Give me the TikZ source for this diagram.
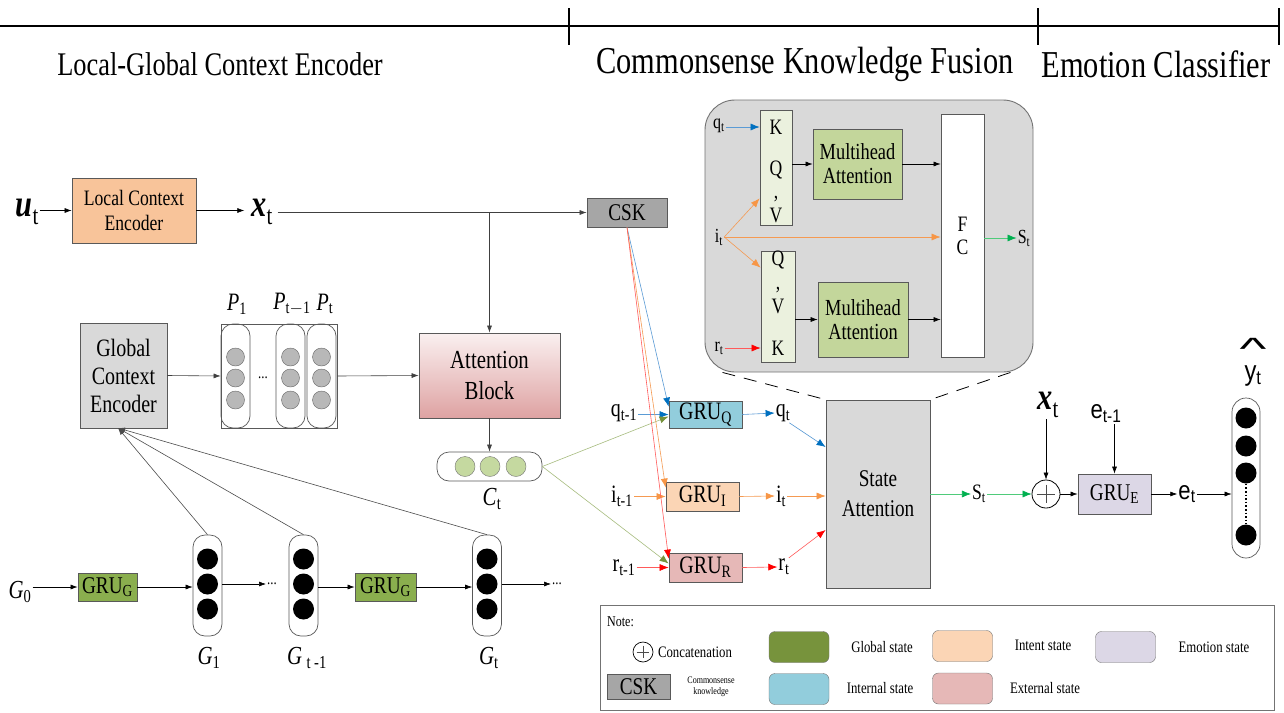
\documentclass[tikz,border=0pt]{standalone}
\usepackage{fontspec}
\setmainfont{Liberation Serif}[FakeStretch=0.8]
\newfontfamily\arial{Liberation Sans}[FakeStretch=0.85]
\usetikzlibrary{arrows.meta}
\newcommand\fs[2]{\fontsize{#1}{#2}\selectfont}
\definecolor{peach}{HTML}{F8C49A}
\definecolor{gbox}{HTML}{D9D9D9}
\definecolor{cskgray}{HTML}{A6A6A6}
\definecolor{grugreen}{HTML}{8AAE4E}
\definecolor{legolive}{HTML}{77933C}
\definecolor{qblue}{HTML}{92CDDC}
\definecolor{ipeach}{HTML}{FBD5B5}
\definecolor{rpink}{HTML}{E6B8B7}
\definecolor{elav}{HTML}{DCD7E6}
\definecolor{kgreen}{HTML}{EBF1DE}
\definecolor{mgreen}{HTML}{C3D69B}
\definecolor{cgreen}{HTML}{C5D9A0}
\definecolor{ablue}{HTML}{0070C0}
\definecolor{lblue}{HTML}{5B9BD5}
\definecolor{aorange}{HTML}{F79646}
\definecolor{lorange}{HTML}{F59A52}
\definecolor{ared}{HTML}{FF0000}
\definecolor{lred}{HTML}{FF5A5A}
\definecolor{agreen}{HTML}{00B050}
\definecolor{lgreen}{HTML}{4FCB7A}
\definecolor{aolive}{HTML}{76923C}
\definecolor{lolive}{HTML}{A7BC7E}
\definecolor{attop}{HTML}{FAF0F0}
\definecolor{atbot}{HTML}{DEA2A2}
\tikzset{
  bx/.style={draw=black!65, line width=0.8pt, inner sep=0pt, align=center},
  lab/.style={inner sep=1pt, align=center},
  ar/.style={-{Latex[length=7pt,width=5pt]}, line width=0.6pt},
  arb/.style={draw=lblue, -{Latex[length=9pt,width=7pt,color=ablue]}, line width=0.6pt},
  aro/.style={draw=lorange, -{Latex[length=9pt,width=7pt,color=aorange]}, line width=0.6pt},
  arr/.style={draw=lred, -{Latex[length=9pt,width=7pt,color=ared]}, line width=0.6pt},
  arg/.style={draw=lgreen, -{Latex[length=9pt,width=7pt,color=agreen]}, line width=0.6pt},
  arol/.style={draw=lolive, -{Latex[length=9pt,width=7pt,color=aolive]}, line width=0.6pt},
  col/.style={draw=black!65, line width=0.7pt, rounded corners=12pt, inner sep=0pt},
  dotg/.style={circle, draw=black!60, fill=black!28, minimum size=18pt, inner sep=0pt},
  dotb/.style={circle, fill=black, minimum size=21pt, inner sep=0pt},
  leg/.style={draw=black!55, rounded corners=6pt, minimum width=60pt, minimum height=31pt, inner sep=0pt},
}
\begin{document}
\begin{tikzpicture}[x=1pt,y=-1pt]
\useasboundingbox[fill=white] (0,0) rectangle (1284,712);
% ruler
\coordinate (r0) at (0,26);
\coordinate (r1) at (1279,26);
\draw[line width=2.5pt] (r0) -- (r1);
\coordinate (t1a) at (569,8); \coordinate (t1b) at (569,45);
\coordinate (t2a) at (1038,8); \coordinate (t2b) at (1038,45);
\coordinate (t3a) at (1279,8); \coordinate (t3b) at (1279,45);
\draw[line width=2.5pt] (t1a) -- (t1b);
\draw[line width=2.5pt] (t2a) -- (t2b);
\draw[line width=2.5pt] (t3a) -- (t3b);
\node[lab, font=\fs{33}{33}] (h1) at (220,64) {Local-Global Context Encoder};
\node[lab, font=\fs{38}{38}] (h2) at (805,64) {Commonsense Knowledge Fusion};
\node[lab, font=\fs{38}{38}] (h3) at (1156,64) {Emotion Classifier};

% local encoder row
\node[lab] (ut) at (27,212) {{\fs{38}{38}\bfseries\itshape u}{\fs{26}{26}\raisebox{-8pt}{t}}};
\node[bx, fill=peach, minimum width=124pt, minimum height=65pt, font=\fs{22}{25}] (lce) at (134,210.5) {Local Context\\Encoder};
\node[lab] (xt) at (262,212) {{\fs{38}{38}\bfseries\itshape x}{\fs{26}{26}\raisebox{-8pt}{t}}};
\node[bx, fill=cskgray, minimum width=80pt, minimum height=29pt, font=\fs{24}{24}] (csk) at (627,212.5) {CSK};
\draw[ar] (ut.east |- lce) -- (lce.west);
\draw[ar] (lce.east) -- ([xshift=-6pt]xt.west |- lce);
\draw[ar, black!75] ([xshift=4pt]xt.east |- csk) -- (csk.west);

% global encoder
\node[bx, fill=gbox, minimum width=87pt, minimum height=105pt, font=\fs{25}{28}] (gce) at (123.5,375.5) {Global\\Context\\Encoder};
\node[draw=black!65, line width=0.7pt, minimum width=116pt, minimum height=104pt, inner sep=0pt] (pbox) at (279,376) {};
\node[col, minimum width=29pt, minimum height=104pt] (pc1) at (235.5,376) {};
\node[col, minimum width=29pt, minimum height=104pt] (pc2) at (290.5,376) {};
\node[col, minimum width=29pt, minimum height=104pt] (pc3) at (321.5,376) {};
\node[dotg] (p11) at (235.5,357) {};
\node[dotg] (p12) at (235.5,378) {};
\node[dotg] (p13) at (235.5,400) {};
\node[dotg] (p21) at (290.5,357) {};
\node[dotg] (p22) at (290.5,378) {};
\node[dotg] (p23) at (290.5,400) {};
\node[dotg] (p31) at (321.5,357) {};
\node[dotg] (p32) at (321.5,378) {};
\node[dotg] (p33) at (321.5,400) {};
\node[lab, font=\fs{16}{16}] (pdots) at (263,378) {...};
\node[lab, font=\fs{25}{25}] (pl1) at (237,304) {\textit{P}\textsubscript{1}};
\node[lab, font=\fs{25}{25}] (pl2) at (292,304) {\textit{P}\textsubscript{t$-$1}};
\node[lab, font=\fs{25}{25}] (pl3) at (325,304) {\textit{P}\textsubscript{t}};
\draw[ar, black!75] (gce.east) -- (pbox.west);

\node[bx, top color=attop, bottom color=atbot, draw=black!65, minimum width=141pt, minimum height=85pt, font=\fs{26}{31}] (att) at (489.5,375.5) {Attention\\Block};
\draw[ar, black!75] (pbox.east) -- (att.west);
\draw[ar, black!75] (att.north |- csk) -- (att.north);

\node[col, minimum width=105pt, minimum height=29pt, rounded corners=12pt] (ct) at (489.5,466.5) {};
\node[circle, draw=black!55, fill=cgreen, minimum size=20pt, inner sep=0pt] (c1) at (465,466.5) {};
\node[circle, draw=black!55, fill=cgreen, minimum size=20pt, inner sep=0pt] (c2) at (490,466.5) {};
\node[circle, draw=black!55, fill=cgreen, minimum size=20pt, inner sep=0pt] (c3) at (516,466.5) {};
\node[lab, font=\fs{26}{26}] (ctl) at (492,499) {\textit{C}\textsubscript{t}};
\draw[ar, black!75] (att.south) -- (ct.north);

% GRUs of fusion
\node[bx, fill=qblue, minimum width=73pt, minimum height=27pt, font=\fs{25}{25}] (gruq) at (705.5,414.5) {GRU\textsubscript{Q}};
\node[bx, fill=ipeach, minimum width=73pt, minimum height=29pt, font=\fs{25}{25}] (grui) at (702.5,496.5) {GRU\textsubscript{I}};
\node[bx, fill=rpink, minimum width=73pt, minimum height=29pt, font=\fs{25}{25}] (grur) at (705.5,567.5) {GRU\textsubscript{R}};
\node[lab, font=\fs{25}{25}] (qt1) at (624,413) {q\textsubscript{t-1}};
\node[lab, font=\fs{25}{25}] (it1) at (622,496) {i\textsubscript{t-1}};
\node[lab, font=\fs{25}{25}] (rt1) at (624,568) {r\textsubscript{t-1}};
\draw[arb] (qt1.east |- gruq) -- (gruq.west);
\draw[aro] (it1.east |- grui) -- (grui.west);
\draw[arr] (rt1.east |- grur) -- (grur.west);
\draw[arol] (ct.east) -- ([yshift=-2pt]gruq.west);
\draw[arol] (ct.east) -- ([yshift=4pt]grur.west);
\draw[arb] (csk.south) -- ([yshift=-6pt]gruq.north west);
\draw[aro] (csk.south) -- ([yshift=-6pt]grui.north west);
\draw[arr] (csk.south) -- ([yshift=-6pt]grur.north west);

\node[lab, font=\fs{25}{25}] (qt) at (783,413) {q\textsubscript{t}};
\node[lab, font=\fs{25}{25}] (it) at (781,496) {i\textsubscript{t}};
\node[lab, font=\fs{25}{25}] (rt) at (784,567) {r\textsubscript{t}};
\node[bx, fill=gbox, minimum width=104pt, minimum height=188pt, font=\fs{24}{30}] (sa) at (878,494) {State\\Attention};
\draw[arb] (gruq.east) -- (qt.west);
\draw[aro] (grui.east) -- (it.west);
\draw[arr] (grur.east) -- (rt.west);
\draw[arb] ([xshift=-2pt]qt.south east) -- ([yshift=47pt]sa.west);
\draw[aro] (it.east) -- (sa.west |- it);
\draw[arr] ([xshift=-2pt]rt.north east) -- ([yshift=-36pt]sa.west);

% zoom box
\node[draw=black!55, line width=0.9pt, fill=gbox, rounded corners=30pt, minimum width=328pt, minimum height=272pt, inner sep=0pt] (zb) at (869,236) {};
\draw[dashed, dash pattern=on 13pt off 9pt, line width=0.8pt] ([xshift=18pt]zb.south west) -- (sa.north west);
\draw[dashed, dash pattern=on 13pt off 9pt, line width=0.8pt] ([xshift=-23pt]zb.south east) -- (sa.north east);
\node[bx, fill=kgreen, minimum width=32pt, minimum height=115pt] (kqv1) at (776,167.5) {};
\node[bx, fill=kgreen, minimum width=34pt, minimum height=111pt] (kqv2) at (778,306.5) {};
\node[lab, font=\fs{22}{22}] (k1) at (776,127) {K};
\node[lab, font=\fs{22}{22}] (q1) at (776,170) {Q};
\node[lab, font=\fs{22}{22}] (cm1) at (776,199) {,};
\node[lab, font=\fs{22}{22}] (v1) at (776,215) {V};
\node[lab, font=\fs{22}{22}] (q2) at (778,260) {Q};
\node[lab, font=\fs{22}{22}] (cm2) at (778,290) {,};
\node[lab, font=\fs{22}{22}] (v2) at (778,306) {V};
\node[lab, font=\fs{22}{22}] (k2) at (778,348) {K};
\node[bx, fill=mgreen, minimum width=89pt, minimum height=70pt, font=\fs{23}{24}] (mha1) at (857.5,164) {Multihead\\Attention};
\node[bx, fill=mgreen, minimum width=90pt, minimum height=75pt, font=\fs{23}{24}] (mha2) at (863,319.5) {Multihead\\Attention};
\node[bx, fill=white, minimum width=43pt, minimum height=243pt, font=\fs{22}{23}] (fc) at (962.5,235.5) {F\\C};
\draw[ar] (kqv1.east |- mha1) -- (mha1.west);
\draw[ar] (mha1.east) -- (fc.west |- mha1);
\draw[ar] (kqv2.east |- mha2) -- (mha2.west);
\draw[ar] (mha2.east) -- (fc.west |- mha2);
\node[lab, font=\fs{20}{20}] (qin) at (719,126) {q\textsubscript{t}};
\node[lab, font=\fs{20}{20}] (iin) at (719,237) {i\textsubscript{t}};
\node[lab, font=\fs{20}{20}] (rin) at (719,348) {r\textsubscript{t}};
\node[lab, font=\fs{20}{20}] (sin) at (1024,238) {S\textsubscript{t}};
\draw[arb] (qin.east |- k1) -- (kqv1.west |- k1);
\draw[arr] (rin.east |- k2) -- (kqv2.west |- k2);
\draw[aro] (iin.east) -- ([yshift=27pt]kqv1.south west);
\draw[aro] (iin.east) -- ([yshift=-17pt]kqv2.north west);
\draw[aro] (iin.east) -- (fc.west |- iin);
\draw[arg] (fc.east |- sin) -- (sin.west);

% emotion classifier
\node[lab, font=\fs{22}{22}] (st) at (979,494) {S\textsubscript{t}};
\node[circle, draw=black, line width=0.8pt, minimum size=28pt, inner sep=0pt] (plus) at (1046,494) {};
\draw[black!70, line width=0.6pt] ([yshift=-5pt]plus.north) -- ([yshift=5pt]plus.south);
\draw[black!70, line width=0.6pt] ([xshift=5pt]plus.west) -- ([xshift=-5pt]plus.east);
\draw[arg] (sa.east |- st) -- (st.west);
\draw[arg] (st.east) -- (plus.west);
\node[lab] (xt2) at (1048,405) {{\fs{38}{38}\bfseries\itshape x}{\fs{26}{26}\raisebox{-8pt}{t}}};
\draw[ar] (plus.north |- xt2.south) -- (plus.north);
\node[bx, fill=elav, minimum width=73pt, minimum height=40pt, font=\fs{24}{24}] (grue) at (1114.5,494) {GRU\textsubscript{E}};
\draw[ar] (plus.east) -- (grue.west);
\node[lab, font=\arial\fs{26}{26}] (et1) at (1106,414) {e\textsubscript{t-1}};
\draw[ar] (grue.north |- et1.south) -- (grue.north);
\node[lab, font=\arial\fs{26}{26}] (et) at (1187,494) {e\textsubscript{t}};
\draw[ar] (grue.east) -- (et.west);
\node[col, minimum width=28pt, minimum height=160pt, rounded corners=14pt] (ycol) at (1246,478) {};
\node[dotb] (y1) at (1246,418) {};
\node[dotb] (y2) at (1246,446) {};
\node[dotb] (y3) at (1246,473) {};
\node[dotb] (y4) at (1246,535) {};
\draw[line width=1.6pt, dotted] (y3.south) -- (y4.north);
\draw[ar] (et.east) -- (ycol.west |- et);
\node[lab, font=\arial\fs{28}{28}] (yhat) at (1253,362) {\scalebox{2.4}[1.1]{\textasciicircum}\\[-7pt]y\textsubscript{t}};

% bottom row
\node[lab, font=\fs{26}{26}] (g0) at (20,592) {\textit{G}\textsubscript{0}};
\node[bx, fill=grugreen, minimum width=59pt, minimum height=28pt, font=\fs{24}{24}] (grug1) at (107.5,587) {GRU\textsubscript{G}};
\node[col, minimum width=29pt, minimum height=101pt] (gc1) at (207.5,585.5) {};
\node[col, minimum width=29pt, minimum height=101pt] (gc2) at (303.5,585.5) {};
\node[bx, fill=grugreen, minimum width=61pt, minimum height=28pt, font=\fs{24}{24}] (grug2) at (385.5,587) {GRU\textsubscript{G}};
\node[col, minimum width=29pt, minimum height=101pt] (gc3) at (487,585.5) {};
\node[dotb] (g11) at (207.5,559) {};
\node[dotb] (g12) at (207.5,584) {};
\node[dotb] (g13) at (207.5,609) {};
\node[dotb] (g21) at (303.5,559) {};
\node[dotb] (g22) at (303.5,584) {};
\node[dotb] (g23) at (303.5,609) {};
\node[dotb] (g31) at (487,559) {};
\node[dotb] (g32) at (487,584) {};
\node[dotb] (g33) at (487,609) {};
\node[lab, font=\fs{16}{16}] (gd1) at (272,584) {...};
\node[lab, font=\fs{16}{16}] (gd2) at (557,584) {...};
\node[lab, font=\fs{26}{26}] (gl1) at (209,658) {\textit{G}\textsubscript{1}};
\node[lab, font=\fs{26}{26}] (gl2) at (307,658) {\textit{G}\,\textsubscript{t -1}};
\node[lab, font=\fs{26}{26}] (gl3) at (489,658) {\textit{G}\textsubscript{t}};
\draw[ar] (g0.east |- grug1) -- (grug1.west);
\draw[ar] (grug1.east) -- (gc1.west |- grug1);
\draw[ar] (gc1.east |- gd1) -- (gd1.west);
\draw[ar] (gc2.east |- grug2) -- (grug2.west);
\draw[ar] (grug2.east) -- (gc3.west |- grug2);
\draw[ar] (gc3.east |- gd2) -- (gd2.west);
\coordinate (gin) at (118,428);
\draw[ar, black!70] (gc1.north) -- (gin);
\draw[ar, black!70] (gc2.north) -- (gin);
\draw[ar, black!70] (gc3.north) -- (gin);

% legend
\node[draw=black!55, line width=0.8pt, minimum width=674pt, minimum height=105pt, inner sep=0pt] (legend) at (937,657.5) {};
\node[lab, anchor=west, font=\fs{15}{15}] (note) at (606,622) {Note:};
\node[circle, draw=black, line width=0.7pt, minimum size=20pt, inner sep=0pt] (lplus) at (643,652) {};
\draw[black!70] ([yshift=-4pt]lplus.north) -- ([yshift=4pt]lplus.south);
\draw[black!70] ([xshift=4pt]lplus.west) -- ([xshift=-4pt]lplus.east);
\node[lab, font=\fs{16}{16}] (lconc) at (695,652) {Concatenation};
\node[leg, fill=legolive] (lg1) at (799,647) {};
\node[lab, font=\fs{16}{16}] (lglob) at (882,647) {Global state};
\node[leg, fill=ipeach] (lg2) at (962.5,646) {};
\node[lab, font=\fs{16}{16}] (lint) at (1043,645) {Intent state};
\node[leg, fill=elav] (lg3) at (1125.5,647) {};
\node[lab, font=\fs{16}{16}] (lemo) at (1214,647) {Emotion state};
\node[bx, fill=cskgray, minimum width=63pt, minimum height=25pt, font=\fs{24}{24}] (lcsk) at (638.5,686.5) {CSK};
\node[lab, font=\fs{10}{11}] (lck) at (711,687) {Commonsense\\knowledge};
\node[leg, fill=qblue] (lg4) at (799,689) {};
\node[lab, font=\fs{16}{16}] (linr) at (880,688) {Internal state};
\node[leg, fill=rpink] (lg5) at (962.5,688.5) {};
\node[lab, font=\fs{16}{16}] (lext) at (1045,688) {External state};
\end{tikzpicture}
\end{document}
